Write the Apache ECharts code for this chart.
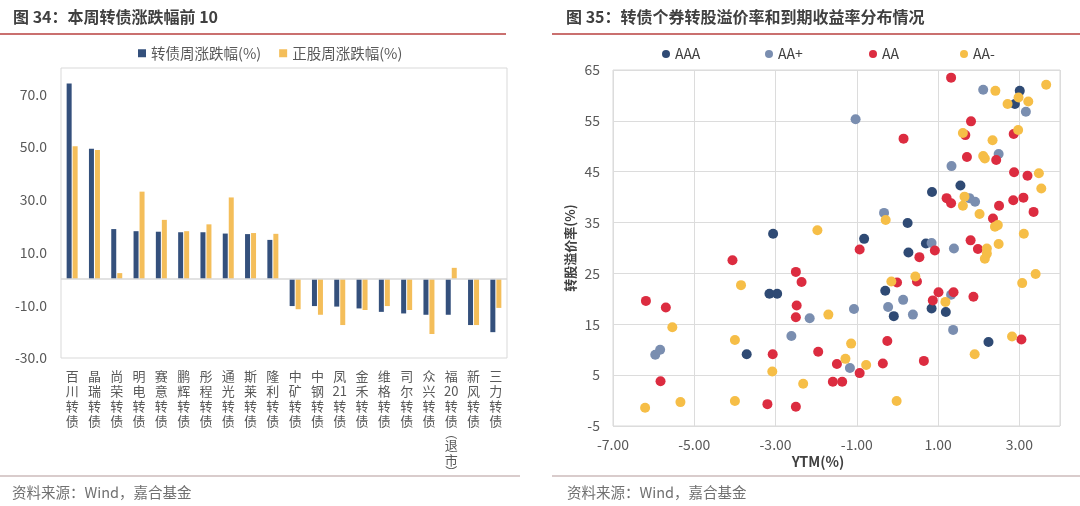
<!DOCTYPE html>
<html><head><meta charset="utf-8">
<script src="https://cdn.jsdelivr.net/npm/echarts@6/dist/echarts.min.js"></script>
<style>html,body{margin:0;padding:0;background:#fff}#c{width:1080px;height:506px}</style>
</head><body><div id="c"></div><script>
// ---- Left chart data: 本周转债涨跌幅前 10 ----
const bondNames = ["百川转债","晶瑞转债","尚荣转债","明电转债","赛意转债","鹏辉转债","彤程转债","通光转债","斯莱转债","隆利转债",
  "中矿转债","中钢转债","凤21转债","金禾转债","维格转债","司尔转债","众兴转债","福20转债(退市)","新风转债","三力转债"];
const bondChange  = [74.1, 49.4, 18.9, 18.1, 17.9, 17.7, 17.7, 17.2, 17.0, 14.8, -10.3, -10.3, -10.5, -11.2, -12.5, -13.1, -13.6, -13.6, -17.5, -20.2];
const stockChange = [50.3, 48.9, 2.2, 33.1, 22.4, 18.1, 20.7, 30.9, 17.4, 17.1, -11.5, -13.6, -17.5, -11.8, -10.3, -11.8, -20.9, 4.2, -17.5, -11.0];

// ---- Right chart data: [YTM(%), 转股溢价率(%)] ----
const ratingAAA = [[-3.06,32.8],[3.01,60.9],[2.89,58.3],[1.55,42.3],[0.85,41.0],[0.25,34.9],[-0.82,31.8],[0.70,30.9],[0.27,29.1],
  [-0.30,21.6],[-0.09,16.6],[0.84,18.1],[1.19,17.4],[2.24,11.5],[-3.15,21.0],[-2.96,21.0],[-3.71,9.1]];
const ratingAAplus = [[2.11,61.1],[3.16,56.8],[-1.03,55.3],[2.49,48.5],[1.33,46.1],[1.77,39.8],[1.91,39.1],[-0.33,36.9],[0.84,31.0],
  [1.39,29.9],[0.14,19.8],[-0.23,18.4],[0.38,16.9],[-1.07,18.0],[1.32,20.8],[1.37,13.9],[-1.17,6.4],[-2.16,16.2],[-5.96,9.0],[-5.84,10.0],[-2.61,12.7]];
const ratingAA = [[1.32,63.5],[1.81,54.9],[0.15,51.5],[1.67,52.2],[2.86,52.4],[1.71,47.9],[2.43,47.3],[2.87,44.9],[3.20,44.2],[1.21,39.8],
  [1.32,38.8],[2.50,38.3],[2.85,39.4],[3.10,39.9],[3.35,37.1],[2.35,35.8],[-0.93,29.7],[1.80,31.5],[0.92,29.5],[1.98,29.8],[0.54,28.2],
  [0.48,23.4],[-0.01,23.2],[1.01,21.3],[1.38,21.3],[0.87,19.7],[1.87,20.4],[3.05,12.0],[-0.25,11.7],[-1.49,7.2],[-0.36,7.3],[-0.93,5.4],
  [0.65,7.8],[-1.59,3.7],[-1.36,3.7],[-4.06,27.6],[-2.50,25.3],[-2.36,23.3],[-2.48,18.7],[-2.50,16.4],[-6.19,19.6],[-5.70,18.3],[-5.83,3.8],
  [-3.07,9.1],[-1.95,9.6],[-3.20,-0.7],[-2.50,-1.2]];
const ratingAAminus = [[-1.97,33.5],[2.41,60.9],[3.66,62.1],[2.98,59.6],[2.71,58.3],[3.22,58.8],[1.61,52.6],[2.34,51.2],[2.97,53.2],[2.11,48.1],
  [2.15,47.6],[3.48,44.7],[3.54,41.7],[1.65,40.1],[1.61,38.3],[2.02,36.7],[2.40,34.2],[2.47,34.5],[3.11,32.8],[-0.29,35.5],[2.49,30.8],
  [2.20,29.9],[2.20,28.9],[2.15,27.9],[0.44,24.4],[-0.15,23.4],[1.18,19.4],[3.07,23.1],[3.40,24.9],[2.82,12.6],[1.90,9.1],[-1.14,11.2],
  [-1.28,8.2],[-0.77,7.0],[-0.02,-0.1],[-1.70,16.9],[-3.85,22.7],[-5.54,14.4],[-6.21,-1.4],[-5.34,-0.3],[-4.00,11.9],[-3.08,5.7],[-2.32,3.3],[-4.00,-0.1]];

const FONT = "'Noto Sans CJK SC','Noto Sans',sans-serif";
const C_BLUE = '#34507c', C_YEL = '#f4be5a';
const C_AAA = '#2f4a74', C_AAP = '#7a8eb0', C_AA = '#dc2c40', C_AAM = '#f6be47';
const LBL = '#595959';

function vertLabel(s){
  return s.match(/\d+|./g).map(t =>
    t === '(' ? '{p|︵}' : t === ')' ? '{p|︶}' : '{c|' + t + '}'
  ).join('\n');
}

const chart = echarts.init(document.getElementById('c'));
chart.setOption({
  animation: false,
  textStyle: {fontFamily: FONT},
  legend: [
    {left: 133, top: 41, itemWidth: 8, itemHeight: 8, itemGap: 18, icon: 'rect',
     textStyle: {fontSize: 14.5, color: LBL, fontFamily: FONT},
     data: ['转债周涨跌幅(%)', '正股周涨跌幅(%)']},
    {left: 657, top: 42, itemWidth: 8, itemHeight: 8, icon: 'circle', textStyle: {fontSize: 14, color: '#404040'}, data: ['AAA']},
    {left: 760, top: 42, itemWidth: 8, itemHeight: 8, icon: 'circle', textStyle: {fontSize: 14, color: '#404040'}, data: ['AA+']},
    {left: 864, top: 42, itemWidth: 8, itemHeight: 8, icon: 'circle', textStyle: {fontSize: 14, color: '#404040'}, data: ['AA']},
    {left: 955, top: 42, itemWidth: 8, itemHeight: 8, icon: 'circle', textStyle: {fontSize: 14, color: '#404040'}, data: ['AA-']}
  ],
  grid: [
    {left: 61, top: 68, width: 446, height: 290, show: true, borderColor: '#d9d9d9', borderWidth: 1, backgroundColor: 'transparent'},
    {left: 613, top: 70, width: 447, height: 356, show: true, borderColor: '#d9d9d9', borderWidth: 1, backgroundColor: 'transparent'}
  ],
  xAxis: [
    {type: 'category', gridIndex: 0, data: bondNames, position: 'bottom',
     axisLine: {show: false, onZero: false}, axisTick: {show: false},
     axisLabel: {interval: 0, margin: 11, verticalAlign: 'top', formatter: vertLabel,
       rich: {c: {fontSize: 13, lineHeight: 15, color: LBL, fontFamily: FONT},
              p: {fontSize: 12, lineHeight: 9, color: LBL, fontFamily: FONT}}}},
    {type: 'value', gridIndex: 1, min: -7, max: 4, interval: 2,
     axisLine: {show: false, onZero: false}, axisTick: {show: false},
     splitLine: {show: true, lineStyle: {color: '#dcdcdc', width: 1}},
     axisLabel: {fontSize: 14, color: LBL, margin: 12, showMaxLabel: false, formatter: v => v.toFixed(2)}}
  ],
  yAxis: [
    {type: 'value', gridIndex: 0, min: -30, max: 80, interval: 20,
     axisLine: {show: false}, axisTick: {show: false}, splitLine: {show: false},
     axisLabel: {fontSize: 14, color: LBL, margin: 14, showMaxLabel: false, formatter: v => v.toFixed(1)}},
    {type: 'value', gridIndex: 1, min: -5, max: 65, interval: 10,
     axisLine: {show: false}, axisTick: {show: false},
     splitLine: {show: true, lineStyle: {color: '#dcdcdc', width: 1}},
     axisLabel: {fontSize: 14, color: LBL, margin: 13},
     name: '转股溢价率(%)', nameLocation: 'middle', nameGap: 36, nameRotate: 90,
     nameTextStyle: {fontSize: 13, fontWeight: 'bold', color: '#404040', fontFamily: FONT}}
  ],
  series: [
    {name: '转债周涨跌幅(%)', type: 'bar', xAxisIndex: 0, yAxisIndex: 0, data: bondChange, barWidth: 5, barGap: '20%',
     itemStyle: {color: C_BLUE},
     markLine: {silent: true, symbol: 'none', label: {show: false}, data: [{yAxis: 0}],
       lineStyle: {color: '#d9d9d9', type: 'solid', width: 1.5}}},
    {name: '正股周涨跌幅(%)', type: 'bar', xAxisIndex: 0, yAxisIndex: 0, data: stockChange, barWidth: 5,
     itemStyle: {color: C_YEL}},
    {name: 'AAA', type: 'scatter', xAxisIndex: 1, yAxisIndex: 1, data: ratingAAA, symbolSize: 10, itemStyle: {color: C_AAA, opacity: 1}},
    {name: 'AA+', type: 'scatter', xAxisIndex: 1, yAxisIndex: 1, data: ratingAAplus, symbolSize: 10, itemStyle: {color: C_AAP, opacity: 1}},
    {name: 'AA', type: 'scatter', xAxisIndex: 1, yAxisIndex: 1, data: ratingAA, symbolSize: 10, itemStyle: {color: C_AA, opacity: 1}},
    {name: 'AA-', type: 'scatter', xAxisIndex: 1, yAxisIndex: 1, data: ratingAAminus, symbolSize: 10, itemStyle: {color: C_AAM, opacity: 1}}
  ],
  graphic: [
    {type: 'text', left: 13, top: 9, style: {text: '图 34：本周转债涨跌幅前 10', fontSize: 16, fontWeight: 'bold', fill: '#404040', fontFamily: FONT}},
    {type: 'text', left: 566, top: 9, style: {text: '图 35：转债个券转股溢价率和到期收益率分布情况', fontSize: 16, fontWeight: 'bold', fill: '#404040', fontFamily: FONT}},
    {type: 'line', shape: {x1: 0, y1: 34, x2: 506, y2: 34}, style: {stroke: '#b8403f', lineWidth: 1.5}},
    {type: 'line', shape: {x1: 552, y1: 34, x2: 1080, y2: 34}, style: {stroke: '#b8403f', lineWidth: 1.5}},
    {type: 'line', shape: {x1: 0, y1: 476, x2: 520, y2: 476}, style: {stroke: '#d9cccc', lineWidth: 2}},
    {type: 'line', shape: {x1: 552, y1: 476, x2: 1080, y2: 476}, style: {stroke: '#d9cccc', lineWidth: 2}},
    {type: 'text', left: 12, top: 485, style: {text: '资料来源：Wind，嘉合基金', fontSize: 14.5, fill: '#707070', fontFamily: FONT}},
    {type: 'text', left: 567, top: 485, style: {text: '资料来源：Wind，嘉合基金', fontSize: 14.5, fill: '#707070', fontFamily: FONT}},
    {type: 'text', x: 818, y: 462, style: {text: 'YTM(%)', fontSize: 14, fontWeight: 'bold', fill: '#404040', fontFamily: FONT, align: 'center', verticalAlign: 'middle'}}
  ]
});
</script></body></html>
